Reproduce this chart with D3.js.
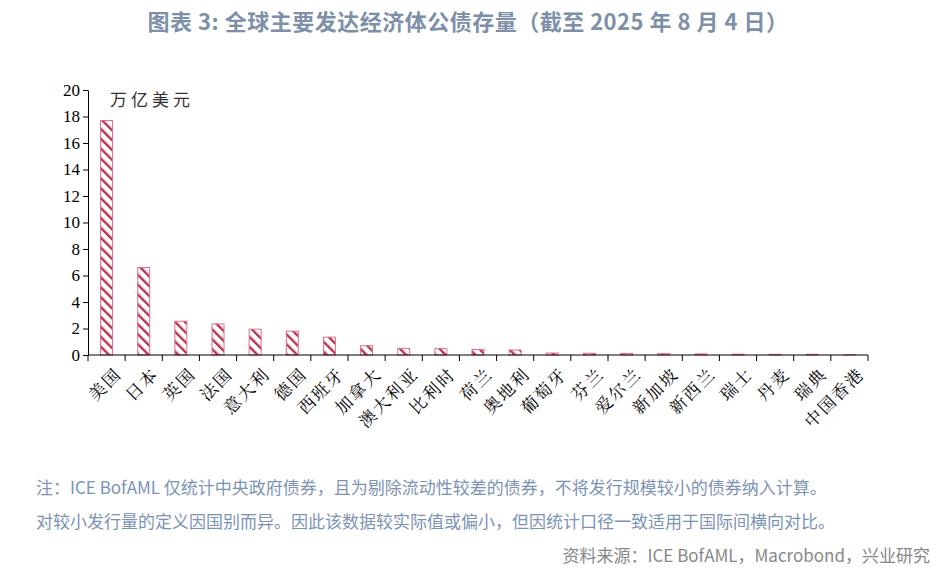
<!DOCTYPE html><html><head><meta charset="utf-8"><script src="https://cdn.jsdelivr.net/npm/d3@7"></script>
<style>body{margin:0;background:#fff}</style></head><body><svg id="c" width="937" height="573"></svg>
<script>
const categories=["美国","日本","英国","法国","意大利","德国","西班牙","加拿大","澳大利亚","比利时","荷兰","奥地利","葡萄牙","芬兰","爱尔兰","新加坡","新西兰","瑞士","丹麦","瑞典","中国香港"];
const values=[17.7,6.6,2.55,2.35,1.95,1.8,1.35,0.7,0.5,0.5,0.42,0.38,0.15,0.13,0.12,0.1,0.08,0.06,0.05,0.05,0.02];
const yTicks=[0,2,4,6,8,10,12,14,16,18,20];
const svg=d3.select("#c");
const defs=svg.append("defs");
const p=defs.append("pattern").attr("id","h").attr("patternUnits","userSpaceOnUse").attr("width",7).attr("height",7).attr("patternTransform","rotate(-45)");
p.append("rect").attr("width",7).attr("height",7).attr("fill","#fff");
p.append("rect").attr("width",2.4).attr("height",7).attr("fill","#b8334f");
const x=d3.scaleBand().domain(categories).range([88,868]);
const y=d3.scaleLinear().domain([0,20]).range([355,90]);
svg.append("text").attr("x",468).attr("y",30).attr("text-anchor","middle").attr("font-family","Noto Sans CJK SC").attr("font-weight","bold").attr("font-size",22).attr("letter-spacing",0.5).attr("fill","#7d8fa9").text("图表 3:  全球主要发达经济体公债存量（截至 2025 年 8 月 4 日）");
svg.selectAll(".b").data(values).enter().append("rect").attr("x",(d,i)=>x(categories[i])+x.bandwidth()/2-6).attr("width",12).attr("y",d=>y(d)).attr("height",d=>355-y(d)).attr("fill","url(#h)").attr("stroke","#e0708c").attr("stroke-width",1);
const ya=svg.append("g").attr("transform","translate(88,0)").call(d3.axisLeft(y).tickValues(yTicks).tickSize(5).tickSizeOuter(0));
ya.selectAll("text").attr("font-family","Liberation Serif").attr("font-size",17).attr("fill","#000");
svg.append("line").attr("x1",88).attr("x2",868).attr("y1",355).attr("y2",355).attr("stroke","#000");
categories.concat([null]).forEach((c,i)=>{const xx=88+i*x.step();svg.append("line").attr("x1",xx).attr("x2",xx).attr("y1",355).attr("y2",361).attr("stroke","#000");});
svg.selectAll("path.domain,line").attr("stroke","#000");
categories.forEach(c=>{const cx=x(c)+x.bandwidth()/2+7;svg.append("text").attr("transform",`translate(${cx},366) rotate(-45)`).attr("text-anchor","end").attr("dy","0.75em").attr("font-family","Noto Serif CJK SC, Noto Sans CJK SC").attr("font-size",17).attr("letter-spacing",2).attr("fill","#000").text(c);});
svg.append("text").attr("x",110).attr("y",106).attr("font-family","Noto Sans CJK SC").attr("font-size",17).attr("letter-spacing",4).attr("fill","#333").text("万亿美元");
const n=svg.append("g").attr("font-family","Noto Sans CJK SC").attr("font-size",17).attr("fill","#7d93b5");
n.append("text").attr("x",36).attr("y",494).text("注：ICE BofAML 仅统计中央政府债券，且为剔除流动性较差的债券，不将发行规模较小的债券纳入计算。");
n.append("text").attr("x",36).attr("y",528).text("对较小发行量的定义因国别而异。因此该数据较实际值或偏小，但因统计口径一致适用于国际间横向对比。");
svg.append("text").attr("x",930).attr("y",562).attr("text-anchor","end").attr("font-family","Noto Sans CJK SC").attr("font-size",17).attr("fill","#888").text("资料来源：ICE BofAML，Macrobond，兴业研究");
</script></body></html>
